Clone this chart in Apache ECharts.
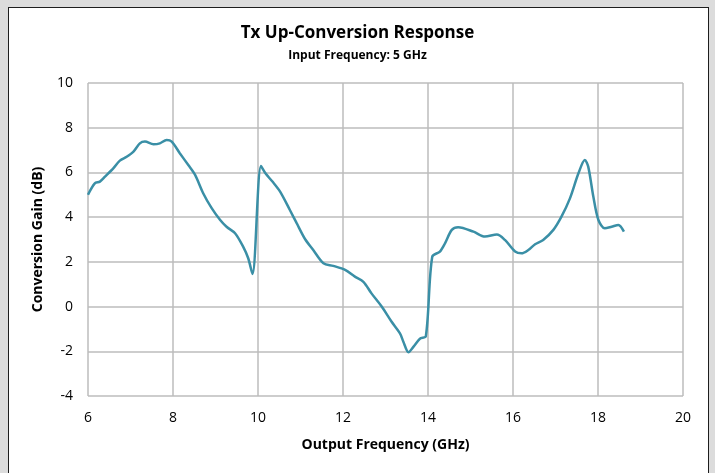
<!DOCTYPE html>
<html>
<head>
<meta charset="utf-8">
<script src="https://cdn.jsdelivr.net/npm/echarts@6/dist/echarts.min.js"></script>
<style>
html,body{margin:0;padding:0;width:715px;height:473px;background:#dcdcdc;overflow:hidden;}
#frame{position:absolute;left:8px;top:7px;width:701px;height:480px;background:#fff;border:1.5px solid #1e1e1e;box-sizing:border-box;}
#chart{position:absolute;left:0;top:0;width:715px;height:473px;}
</style>
</head>
<body>
<div id="frame"></div>
<div id="chart"></div>
<script>
const titleText = "Tx Up-Conversion Response";
const subtitleText = "Input Frequency: 5 GHz";
const xAxisName = "Output Frequency (GHz)";
const yAxisName = "Conversion Gain (dB)";
const freqGHz = [6.0, 6.16, 6.28, 6.40, 6.60, 6.75, 6.91, 7.07, 7.22, 7.34, 7.54, 7.69, 7.85, 7.97, 8.16, 8.36, 8.52, 8.71, 8.91, 9.11, 9.26, 9.46, 9.65, 9.77, 9.87, 10.07, 10.18, 10.34, 10.52, 10.75, 10.91, 11.11, 11.30, 11.54, 11.77, 12.05, 12.28, 12.48, 12.67, 12.91, 13.14, 13.34, 13.42, 13.54, 13.66, 13.81, 13.95, 14.10, 14.28, 14.40, 14.56, 14.71, 15.07, 15.34, 15.62, 15.81, 16.05, 16.20, 16.36, 16.52, 16.71, 16.95, 17.14, 17.34, 17.54, 17.69, 17.77, 17.89, 18.01, 18.16, 18.32, 18.48, 18.61];
const gainDb = [5.0, 5.51, 5.59, 5.81, 6.19, 6.53, 6.70, 6.93, 7.30, 7.38, 7.26, 7.30, 7.45, 7.38, 6.86, 6.33, 5.89, 5.07, 4.40, 3.87, 3.57, 3.28, 2.68, 2.16, 1.46, 6.29, 5.95, 5.59, 5.14, 4.32, 3.73, 3.01, 2.53, 1.94, 1.82, 1.64, 1.34, 1.11, 0.59, 0.0, -0.67, -1.20, -1.57, -2.04, -1.79, -1.44, -1.32, 2.23, 2.46, 2.83, 3.43, 3.55, 3.35, 3.13, 3.22, 2.98, 2.46, 2.38, 2.53, 2.79, 2.98, 3.43, 4.02, 4.84, 5.96, 6.56, 6.26, 4.92, 3.87, 3.50, 3.57, 3.65, 3.35];

const chart = echarts.init(document.getElementById('chart'), null, {renderer:'canvas'});
const font = "'Open Sans', 'Noto Sans', sans-serif";
chart.setOption({
  backgroundColor: 'transparent',
  animation: false,
  title: [
    {text: titleText, left: 'center', top: 20, textStyle:{fontFamily:font, fontSize:17, fontWeight:'bold', color:'#000'}},
    {text: subtitleText, left: 'center', top: 45, textStyle:{fontFamily:font, fontSize:12, fontWeight:'bold', color:'#000'}}
  ],
  grid: {left: 88, right: 32, top: 83, bottom: 77},
  xAxis: {
    type: 'value', min: 6, max: 20, interval: 2,
    name: xAxisName, nameLocation: 'middle', nameGap: 42,
    nameTextStyle: {fontFamily:font, fontSize:14, fontWeight:'bold', color:'#000'},
    axisLine: {show:false}, axisTick: {show:false},
    axisLabel: {fontFamily:font, fontSize:14, color:'#000', margin:15},
    splitLine: {show:true, lineStyle:{color:'#bdbdbd', width:1.5}}
  },
  yAxis: {
    type: 'value', min: -4, max: 10, interval: 2,
    name: yAxisName, nameLocation: 'middle', nameGap: 43, nameRotate: 90,
    nameTextStyle: {fontFamily:font, fontSize:14, fontWeight:'bold', color:'#000'},
    axisLine: {show:false}, axisTick: {show:false},
    axisLabel: {fontFamily:font, fontSize:14, color:'#000', margin:15},
    splitLine: {show:true, lineStyle:{color:'#bdbdbd', width:1.5}}
  },
  series: [{
    type: 'line',
    data: freqGHz.map((f, i) => [f, gainDb[i]]),
    smooth: 0.3,
    showSymbol: false,
    lineStyle: {color:'#3a8fa6', width:2.5},
    itemStyle: {color:'#3a8fa6'}
  }]
});
</script>
</body>
</html>
